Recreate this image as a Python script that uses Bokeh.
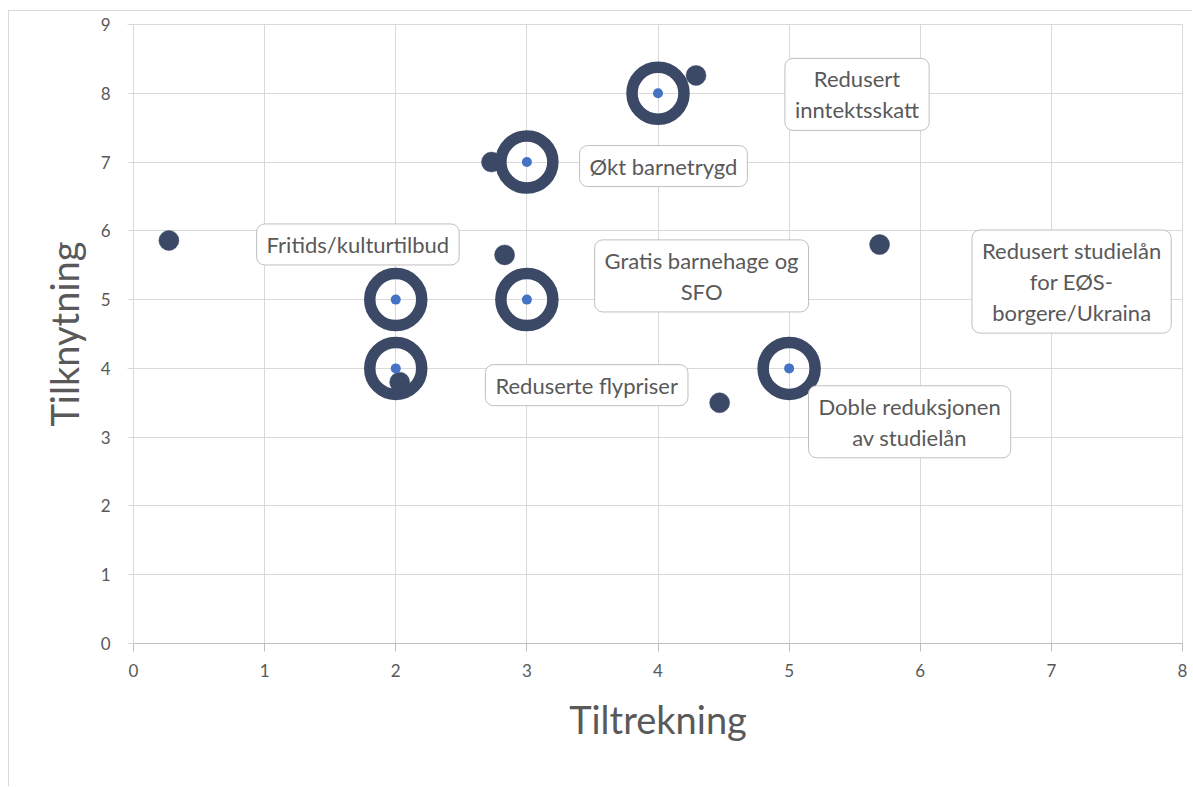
from bokeh.plotting import figure
from bokeh.models import Label, Range1d, FixedTicker
from bokeh.embed import file_html
from bokeh.resources import INLINE

# Ring series (large hollow markers)
ring_x = [4, 3, 2, 3, 2, 5]
ring_y = [8, 7, 5, 5, 4, 4]

# Labelled point series
names = [
    "Redusert\ninntektsskatt",
    "Økt barnetrygd",
    "Fritids/kulturtilbud",
    "Gratis barnehage og\nSFO",
    "Redusert studielån\nfor EØS-\nborgere/Ukraina",
    "Doble reduksjonen\nav studielån",
    "Reduserte flypriser",
]
pt_x = [4.29, 2.73, 0.27, 2.83, 5.69, 4.47, 2.03]
pt_y = [8.26, 7.00, 5.86, 5.65, 5.80, 3.50, 3.80]

x_ticks = [0, 1, 2, 3, 4, 5, 6, 7, 8]
y_ticks = [0, 1, 2, 3, 4, 5, 6, 7, 8, 9]

# label box offsets in screen pixels (layout only)
lab_dx = [161, 172, 189, 197, 192, 190, 187]
lab_dy = [-19, -4, -4, -21, -37, -19, -3]

NAVY = "#3b4966"
GRAY_TXT = "#595959"
FONT = "Lato"

p = figure(width=1184, height=776, x_range=Range1d(0, 8), y_range=Range1d(0, 9),
           output_backend="svg", toolbar_location=None,
           min_border_left=124, min_border_right=11, min_border_top=13, min_border_bottom=144)
p.styles = {"border-left": "1px solid #d9d9d9", "border-top": "1px solid #d9d9d9",
            "margin-left": "8px", "margin-top": "10px"}
p.background_fill_color = "white"
p.border_fill_color = "white"
p.outline_line_color = "#d9d9d9"

p.xaxis.ticker = FixedTicker(ticks=x_ticks)
p.yaxis.ticker = FixedTicker(ticks=y_ticks)
p.xgrid.grid_line_color = "#d9d9d9"
p.ygrid.grid_line_color = "#d9d9d9"

for ax in (p.xaxis[0], p.yaxis[0]):
    ax.major_label_text_font = FONT
    ax.major_label_text_font_size = "17px"
    ax.major_label_text_color = GRAY_TXT
    ax.minor_tick_line_color = None
    ax.major_tick_in = 0
    ax.axis_label_text_font = FONT
    ax.axis_label_text_font_size = "38px"
    ax.axis_label_text_font_style = "normal"
    ax.axis_label_text_color = GRAY_TXT

p.xaxis.axis_label = "Tiltrekning"
p.yaxis.axis_label = "Tilknytning"
p.xaxis.axis_line_color = "#bfbfbf"
p.xaxis.major_tick_line_color = "#bfbfbf"
p.xaxis.major_tick_out = 8
p.xaxis.major_label_standoff = 12
p.xaxis.axis_label_standoff = 16
p.yaxis.axis_line_color = "#d9d9d9"
p.yaxis.major_tick_line_color = "#d9d9d9"
p.yaxis.major_tick_out = 6
p.yaxis.major_label_standoff = 17
p.yaxis.axis_label_standoff = 11

p.scatter(ring_x, ring_y, size=52, line_width=11.5, line_color=NAVY, fill_alpha=0)
p.scatter(pt_x, pt_y, size=20, fill_color=NAVY, line_color=NAVY, line_width=0.5)
p.scatter(ring_x, ring_y, size=10, fill_color="#4472c4", line_color=None)

for name, x, y, dx, dy in zip(names, pt_x, pt_y, lab_dx, lab_dy):
    p.add_layout(Label(x=x, y=y, x_offset=dx, y_offset=dy, text=name,
                       text_font=FONT, text_font_size="22px", text_color=GRAY_TXT,
                       text_align="center", text_baseline="middle",
                       text_line_height=1.15,
                       background_fill_color="white",
                       border_line_color="#bfbfbf", border_line_width=1,
                       border_radius=8, padding=(10, 7)))

open("out.html", "w").write(file_html(p, INLINE))
